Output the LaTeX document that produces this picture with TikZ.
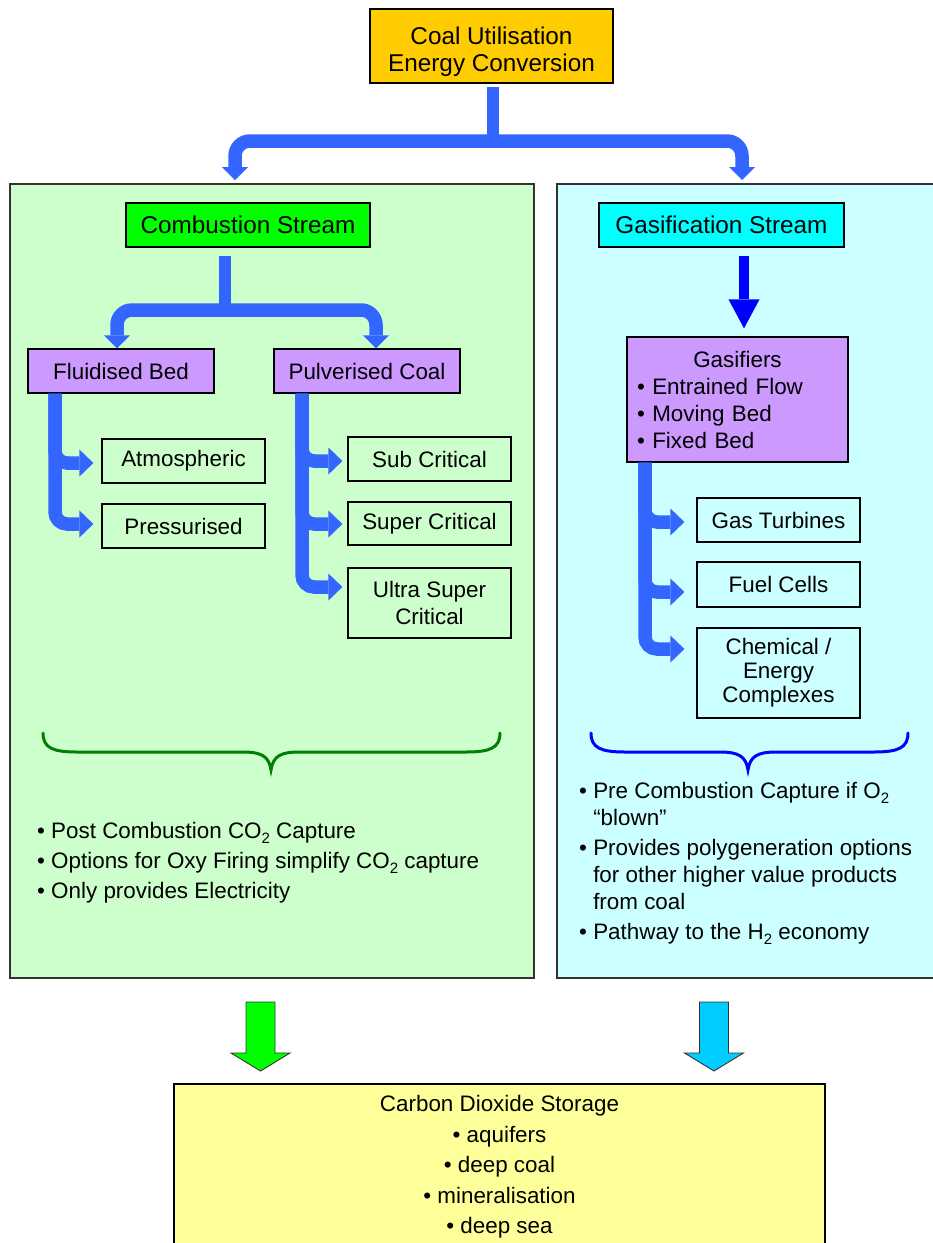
\documentclass[tikz,border=0pt]{standalone}
\usepackage{fontspec}
\setmainfont{Liberation Sans}
\usetikzlibrary{arrows.meta}
\definecolor{cOrange}{HTML}{FFCC00}
\definecolor{cPanelG}{HTML}{CCFFCC}
\definecolor{cPanelC}{HTML}{CCFFFF}
\definecolor{cHdrG}{HTML}{00FF00}
\definecolor{cHdrC}{HTML}{00FFFF}
\definecolor{cPurple}{HTML}{CC99FF}
\definecolor{cArrow}{HTML}{3366FF}
\definecolor{cDeepBlue}{HTML}{0000FF}
\definecolor{cBraceG}{HTML}{008000}
\definecolor{cYellow}{HTML}{FFFF99}
\definecolor{cSky}{HTML}{00CCFF}
\definecolor{cEdge}{HTML}{333333}
\newcommand\bracepath[4]{% x1, xc, x2, colour
  \draw[#4, line width=3pt, line cap=round]
    (#1,733) .. controls (#1,748) and ({#1+10},752) .. ({#1+34},752)
    -- ({#2-28},752) .. controls ({#2-10},752) and ({#2-2},756) .. (#2,770)
    .. controls ({#2+2},756) and ({#2+10},752) .. ({#2+28},752)
    -- ({#3-34},752) .. controls ({#3-10},752) and (#3,748) .. (#3,733);}
\newcommand\blockarrow[2]{% top centre, fill
  \draw[draw=cEdge, line width=0.9pt, fill=#2, line join=miter]
    (#1) ++(-14.5,0) -- ++(29,0) -- ++(0,51) -- ++(15,0) -- ++(-29.5,18)
    -- ++(-29.5,-18) -- ++(15,0) -- cycle;}
\newcommand\subtwo{\raisebox{-4.5pt}{\fontsize{15}{15}\selectfont 2}}
\begin{document}
\begin{tikzpicture}[x=1pt,y=-1pt,
  txt/.style={font=\fontsize{22.4}{27}\selectfont},
  box/.style={txt, draw=black, line width=1.2pt, inner sep=0pt, align=center},
  hdr/.style={box, font=\fontsize{24.3}{27}\selectfont},
  panel/.style={draw=cEdge, line width=1.3pt, inner sep=0pt},
  stem/.style={draw=cArrow, line width=11.5pt},
  fat/.style={draw=cArrow, line width=13.5pt, rounded corners=15pt,
    -{Triangle[length=13pt,width=26pt,line width=0pt]}},
  side/.style={draw=cArrow, line width=13.5pt, rounded corners=12pt,
    -{Triangle[length=14pt,width=27pt,line width=0pt]}},
  listtxt/.style={font=\fontsize{22.4}{27}\selectfont, align=left, inner sep=0pt}
]
\useasboundingbox (0,0) rectangle (933,1243);
\clip (0,0) rectangle (933,1243);
\fill[white] (0,0) rectangle (933,1243);

% panels
\node[panel, fill=cPanelG, minimum width=524pt, minimum height=794pt] (panelL) at (272,581) {};
\node[panel, fill=cPanelC, minimum width=390pt, minimum height=794pt] (panelR) at (752,581) {};

% top
\node[hdr, fill=cOrange, minimum width=243pt, minimum height=74pt] (top) at (491.5,46)
  {\rule{0pt}{30pt}Coal Utilisation\\Energy Conversion};
\coordinate (tj) at (493,141);
\coordinate (cL) at (235,180);
\coordinate (cR) at (742,180);
\draw[stem, shorten <=3pt] (top.south -| tj) -- (tj);
\draw[fat] (tj) -| (cL);
\draw[fat] (tj) -| (cR);

% combustion stream
\node[hdr, fill=cHdrG, minimum width=244pt, minimum height=44pt] (comb) at (248,225) {Combustion Stream};
\node[box, fill=cPurple, minimum width=186pt, minimum height=44pt] (fluid) at (121,371) {Fluidised Bed};
\node[box, fill=cPurple, minimum width=186pt, minimum height=44pt] (pulv) at (367,371) {Pulverised Coal};
\coordinate (cj) at (225,310);
\draw[stem, shorten <=8pt] (comb.south -| cj) -- (cj);
\draw[fat] (cj) -| (fluid.north -| 117,0);
\draw[fat] (cj) -| (pulv.north -| 376,0);

\node[box, minimum width=163pt, minimum height=44pt] (atmo) at (183.5,461) {Atmospheric};
\node[box, minimum width=163pt, minimum height=44pt] (press) at (183.5,526) {Pressurised};
\draw[side] (fluid.south -| 55,0) |- ([xshift=-8pt]atmo.west |- 0,463);
\draw[side] (fluid.south -| 55,0) |- ([xshift=-8pt]press.west |- 0,524);

\node[box, minimum width=163pt, minimum height=44pt] (sub) at (429.5,459) {Sub Critical};
\node[box, minimum width=163pt, minimum height=43pt] (super) at (429.5,523.5) {Super Critical};
\node[box, minimum width=163pt, minimum height=70pt] (ultra) at (429.5,603) {Ultra Super\\Critical};
\draw[side] (pulv.south -| 302,0) |- ([xshift=-5pt]sub.west |- 0,461);
\draw[side] (pulv.south -| 302,0) |- ([xshift=-5pt]super.west |- 0,524);
\draw[side] (pulv.south -| 302,0) |- ([xshift=-5pt]ultra.west |- 0,587);

% gasification stream
\node[hdr, fill=cHdrC, minimum width=245pt, minimum height=44pt] (gas) at (721.5,225) {Gasification Stream};
\node[box, fill=cPurple, minimum width=221pt, minimum height=125pt, text width=201pt, align=left] (gasif) at (737.5,399.5)
  {\makebox[201pt]{Gasifiers}\\• Entrained Flow\\• Moving Bed\\• Fixed Bed};
\draw[draw=cDeepBlue, line width=10pt, shorten <=8pt, shorten >=8pt,
  -{Triangle[length=29pt,width=31pt,line width=0pt]}] (gas.south -| 744,0) -- (gasif.north -| 744,0);

\node[box, minimum width=163pt, minimum height=44pt] (turb) at (778.5,520) {Gas Turbines};
\node[box, minimum width=163pt, minimum height=45pt] (fuel) at (778.5,584.5) {Fuel Cells};
\node[box, minimum width=163pt, minimum height=90pt, font=\fontsize{22.4}{24}\selectfont] (chem) at (778.5,673) {Chemical /\\Energy\\Complexes};
\draw[side] (gasif.south -| 645,0) |- ([xshift=-12pt]turb.west |- 0,522);
\draw[side] (gasif.south -| 645,0) |- ([xshift=-12pt]fuel.west |- 0,592);
\draw[side] (gasif.south -| 645,0) |- ([xshift=-12pt]chem.west |- 0,649);

% braces
\bracepath{43}{271}{500}{cBraceG}
\bracepath{591}{748}{908}{cDeepBlue}

% bullet lists
\node[listtxt, anchor=west, font=\fontsize{22.4}{30}\selectfont] (ltxt) at (37,863)
  {• Post Combustion CO\subtwo{} Capture\\
   • Options for Oxy Firing simplify CO\subtwo{} capture\\
   • Only provides Electricity};
\node[listtxt, anchor=west] (rtxt) at (579,863.5)
  {• Pre Combustion Capture if O\subtwo\\
   \hphantom{• }“blown”\\[3pt]
   • Provides polygeneration options\\
   \hphantom{• }for other higher value products\\
   \hphantom{• }from coal\\[3pt]
   • Pathway to the H\subtwo{} economy};

% storage
\node[box, fill=cYellow, minimum width=651pt, minimum height=166pt, font=\fontsize{22.4}{30.5}\selectfont] (store) at (499.5,1167)
  {Carbon Dioxide Storage\\• aquifers\\• deep coal\\• mineralisation\\• deep sea};
\coordinate (ga) at (260.5,1002);
\coordinate (ba) at (714,1002);
\blockarrow{ga}{cHdrG}
\blockarrow{ba}{cSky}
\end{tikzpicture}
\end{document}
